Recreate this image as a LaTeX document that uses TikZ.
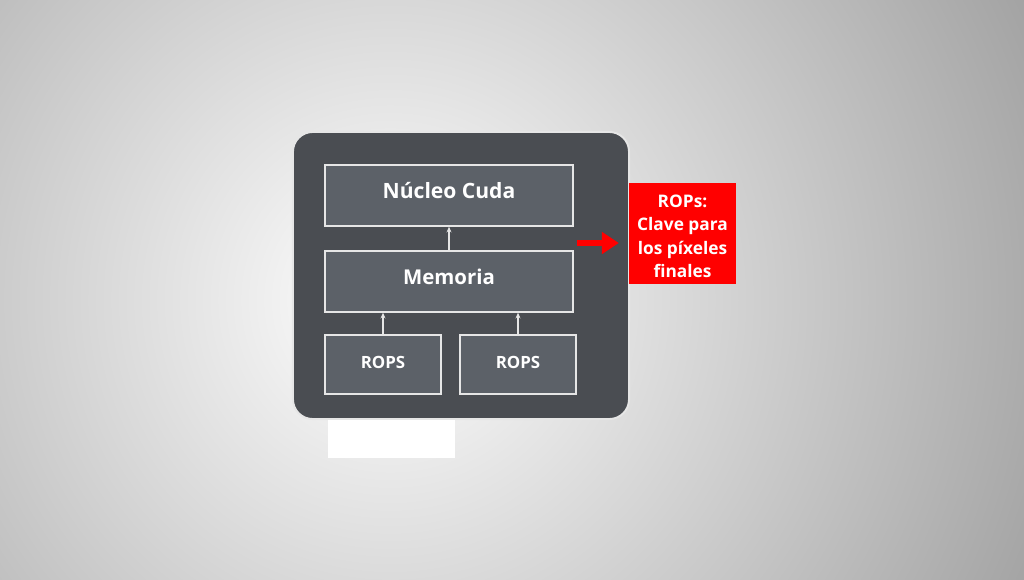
\documentclass[tikz,border=0pt]{standalone}
\usepackage{fontspec}
\setmainfont{Open Sans}
\usepackage{tikz}
\usetikzlibrary{arrows.meta}
\definecolor{chipDark}{HTML}{4A4D52}
\definecolor{blockGray}{HTML}{5C6168}
\definecolor{lineLight}{HTML}{E6E6E6}
\definecolor{noteRed}{HTML}{FF0000}

\begin{document}
\begin{tikzpicture}[x=0.025cm, y=-0.025cm]
  \tikzset{block/.style={draw=lineLight, line width=1.1pt, fill=blockGray},
    blocktext/.style={text=white, font=\bfseries\fontsize{#1}{16}\selectfont},
    link/.style={draw=lineLight, line width=0.8pt, -{Stealth[length=4pt,width=3.5pt]}}}
  \useasboundingbox (0,0) rectangle (1024,579);
  % background
  \begin{scope}
    \clip (0,0) rectangle (1024,579);
    \fill[black!40] (0,0) rectangle (1024,579);
    \shade[inner color=white, outer color=black!40] (390,300) circle (780);
  \end{scope}
  % chip frame
  \node[draw=lineLight, line width=1.4pt, fill=chipDark, rounded corners=14,
    minimum width=8.4cm, minimum height=7.175cm] (chip) at (461,275.5) {};
  \fill[white] (328,420) rectangle (455,458);
  % blocks
  \node[block, minimum width=6.2cm, minimum height=1.525cm,
    label={[blocktext=15, yshift=3.5pt]center:Núcleo Cuda}] (nucleo) at (449,195.5) {};
  \node[block, minimum width=6.2cm, minimum height=1.525cm,
    label={[blocktext=14.5, yshift=3pt]center:Memoria}] (mem) at (449,281.5) {};
  \node[block, minimum width=2.9cm, minimum height=1.475cm,
    label={[blocktext=12, yshift=1.5pt]center:ROPS}] (ropsA) at (383,364.5) {};
  \node[block, minimum width=2.9cm, minimum height=1.475cm,
    label={[blocktext=12, yshift=1.5pt]center:ROPS}] (ropsB) at (518,364.5) {};
  \draw[link] (mem.north) -- (nucleo.south);
  \draw[link] (ropsA.north) -- (ropsA.north |- mem.south);
  \draw[link] (ropsB.north) -- (ropsB.north |- mem.south);
  % note
  \node[fill=noteRed, minimum width=2.675cm, minimum height=2.525cm,
    label={[text=white, align=center, yshift=-2pt,
      font=\bfseries\fontsize{12.3}{16.6}\selectfont]center:ROPs:\\Clave para\\los píxeles\\finales}]
    (note) at (682.5,233.5) {};
  \coordinate (noteFrom) at (577,243);
  \draw[noteRed, line width=4.2pt, -{Triangle[length=12pt,width=15pt]}, shorten >=7pt]
    (noteFrom) -- (noteFrom -| note.west);
\end{tikzpicture}
\end{document}
